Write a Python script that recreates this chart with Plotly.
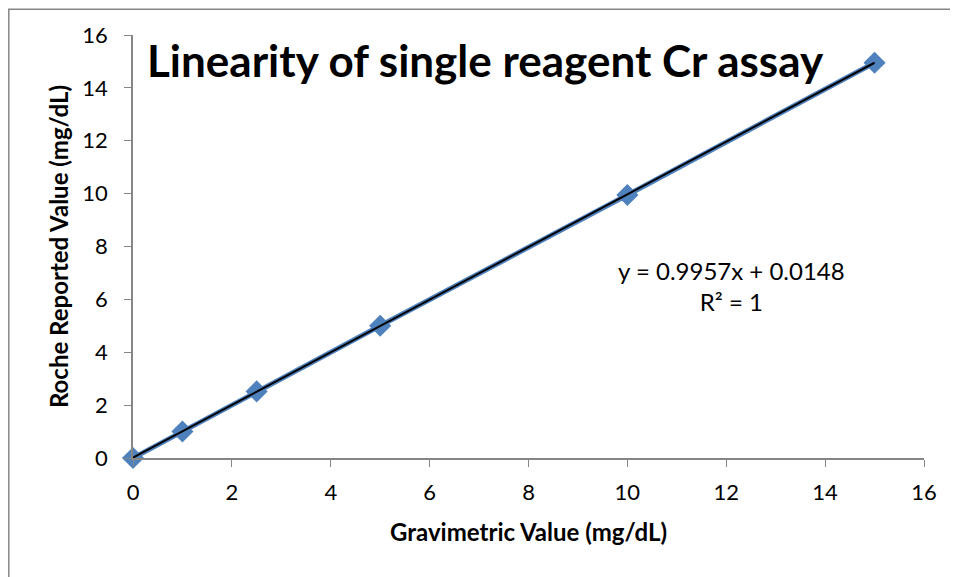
import plotly.graph_objects as go

# data
gravimetric = [0, 1, 2.5, 5, 10, 15]
roche_reported = [0.0, 1.0, 2.52, 5.0, 9.95, 14.95]

# linear trendline shown on the chart
slope = 0.9957
intercept = 0.0148
trend_x = [0, 15]
trend_y = [slope * x + intercept for x in trend_x]

axis_ticks = [0, 2, 4, 6, 8, 10, 12, 14, 16]

FONT = "Lato, Open Sans, sans-serif"
BLUE = "#4F81BD"
GRAY = "#868686"

fig = go.Figure()

# series line + markers
fig.add_trace(
    go.Scatter(
        x=gravimetric,
        y=roche_reported,
        mode="lines+markers",
        line={"color": BLUE, "width": 5},
        marker={"symbol": "diamond", "size": 17, "color": BLUE},
        showlegend=False,
        cliponaxis=False,
    )
)

# trendline
fig.add_trace(
    go.Scatter(
        x=trend_x,
        y=trend_y,
        mode="lines",
        line={"color": "black", "width": 2},
        showlegend=False,
    )
)

axis_common = dict(
    range=[0, 16],
    tickvals=axis_ticks,
    showgrid=False,
    zeroline=False,
    showline=True,
    linecolor=GRAY,
    linewidth=1.5,
    ticks="outside",
    ticklen=7,
    tickcolor=GRAY,
    tickfont={"family": FONT, "size": 22, "color": "black"},
)

fig.update_xaxes(
    **axis_common,
    ticklabelstandoff=7,
    title={"text": "<b>Gravimetric Value (mg/dL)</b>", "font": {"family": FONT, "size": 24, "color": "black"}, "standoff": 20},
)
fig.update_yaxes(
    **axis_common,
    ticklabelstandoff=12,
    title={"text": "<b>Roche Reported Value (mg/dL)</b>", "font": {"family": FONT, "size": 24, "color": "black"}, "standoff": 7},
)

fig.add_annotation(
    text="<b>Linearity of single reagent Cr assay</b>",
    xref="paper", yref="paper",
    x=0.015, y=0.94,
    xanchor="left", yanchor="middle",
    showarrow=False,
    font={"family": FONT, "size": 44, "color": "black"},
)

fig.add_annotation(
    text=f"y = {slope}x + {intercept}<br>R² = 1",
    xref="x", yref="y",
    x=12.1, y=6.5,
    xanchor="center", yanchor="middle",
    align="center",
    showarrow=False,
    font={"family": FONT, "size": 24, "color": "black"},
)

# outer chart border (runs past the right and bottom edges)
fig.add_shape(
    type="rect",
    xref="paper", yref="paper",
    x0=-0.157, x1=1.3, y0=-0.6, y1=1.061,
    line={"color": GRAY, "width": 1.5},
    layer="below",
)

fig.update_layout(
    width=958,
    height=577,
    margin={"l": 125, "r": 42, "t": 27, "b": 127},
    plot_bgcolor="white",
    paper_bgcolor="white",
)

fig.write_html("out.html")
